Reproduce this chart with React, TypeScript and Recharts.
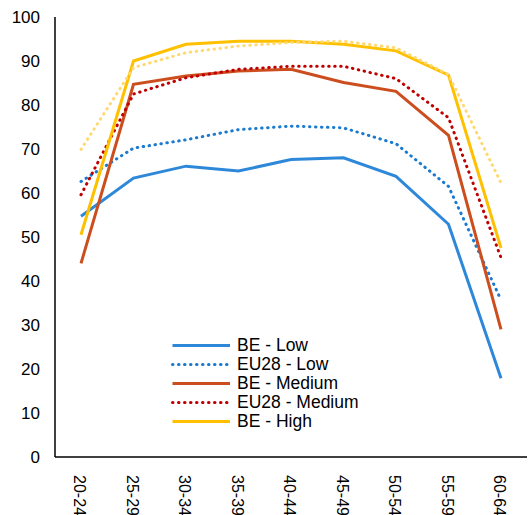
import React from 'react';
import { LineChart, Line, XAxis, YAxis, Legend } from 'recharts';

// age bands on the x axis
const ageGroups = ['20-24', '25-29', '30-34', '35-39', '40-44', '45-49', '50-54', '55-59', '60-64'];

// employment rate (%) by education level
const beLow = [54.7, 63.4, 66.1, 65.0, 67.6, 68.0, 63.8, 52.9, 17.9];
const eu28Low = [62.6, 70.2, 72.1, 74.4, 75.2, 74.8, 71.2, 61.5, 35.7];
const beMedium = [44.0, 84.7, 86.6, 87.7, 88.1, 85.1, 83.1, 73.1, 29.0];
const eu28Medium = [59.6, 82.5, 86.2, 88.1, 88.8, 88.8, 86.0, 77.1, 45.3];
const beHigh = [50.5, 90.0, 93.8, 94.5, 94.5, 93.8, 92.3, 86.8, 47.5];
const eu28High = [69.9, 88.5, 91.9, 93.4, 94.2, 94.5, 93.0, 86.9, 62.3];

const yTicks = [0, 10, 20, 30, 40, 50, 60, 70, 80, 90, 100];

const data = ageGroups.map((age, i) => ({
  age,
  beLow: beLow[i],
  eu28Low: eu28Low[i],
  beMedium: beMedium[i],
  eu28Medium: eu28Medium[i],
  beHigh: beHigh[i],
  eu28High: eu28High[i],
}));

const FONT = '"Liberation Sans", Arial, sans-serif';
const DOTS = '0.5 5.5';

const series = [
  { key: 'beLow', name: 'BE - Low', color: '#2E88DA', dotted: false, legend: true },
  { key: 'eu28Low', name: 'EU28 - Low', color: '#1A7AD0', dotted: true, legend: true },
  { key: 'beMedium', name: 'BE - Medium', color: '#CC4E1E', dotted: false, legend: true },
  { key: 'eu28Medium', name: 'EU28 - Medium', color: '#C00000', dotted: true, legend: true },
  { key: 'beHigh', name: 'BE - High', color: '#FFC000', dotted: false, legend: true },
  { key: 'eu28High', name: 'EU28 - High', color: '#FFD970', dotted: true, legend: false },
];

const AgeTick = (props: any) => {
  const { x, y, payload } = props;
  return (
    <text
      transform={`translate(${x - 1},${y + 10}) rotate(90)`}
      textAnchor="start"
      dy="0.35em"
      fontSize={16}
      fontFamily={FONT}
      fill="#000"
    >
      {payload.value}
    </text>
  );
};

const LegendBox = () => (
  <div style={{ fontFamily: FONT, fontSize: 17.5, color: '#000' }}>
    {series.filter((s) => s.legend).map((s) => (
      <div key={s.key} style={{ display: 'flex', alignItems: 'center', height: 19 }}>
        <svg width={60} height={19} style={{ display: 'block' }}>
          <line
            x1={1.5}
            y1={9.5}
            x2={59}
            y2={9.5}
            stroke={s.color}
            strokeWidth={3}
            strokeLinecap={s.dotted ? 'round' : 'butt'}
            strokeDasharray={s.dotted ? DOTS : undefined}
          />
        </svg>
        <span style={{ marginLeft: 6, whiteSpace: 'nowrap' }}>{s.name}</span>
      </div>
    ))}
  </div>
);

export default function App() {
  return (
    <div style={{ position: 'absolute', left: 0, top: 0 }}>
      <LineChart width={529} height={515} data={data} margin={{ top: 17, right: 2, bottom: 0, left: 0 }}>
        <XAxis
          dataKey="age"
          height={58}
          padding={{ left: 26, right: 26 }}
          axisLine={{ stroke: '#000', strokeWidth: 1.5 }}
          tickLine={false}
          tick={<AgeTick />}
          interval={0}
        />
        <YAxis
          width={55}
          domain={[0, 100]}
          ticks={yTicks}
          axisLine={{ stroke: '#000', strokeWidth: 1.5 }}
          tickLine={false}
          tickMargin={9}
          tick={{ fontSize: 17, fontFamily: FONT, fill: '#000' }}
        />
        <Legend
          layout="vertical"
          align="center"
          verticalAlign="middle"
          content={<LegendBox />}
          wrapperStyle={{ left: 171, top: 336, width: 220 }}
        />
        {series.map((s) => (
          <Line
            key={s.key}
            type="linear"
            dataKey={s.key}
            name={s.name}
            stroke={s.color}
            strokeWidth={3}
            strokeLinecap={s.dotted ? 'round' : 'butt'}
            strokeDasharray={s.dotted ? DOTS : undefined}
            dot={false}
            activeDot={false}
            isAnimationActive={false}
          />
        ))}
      </LineChart>
    </div>
  );
}
